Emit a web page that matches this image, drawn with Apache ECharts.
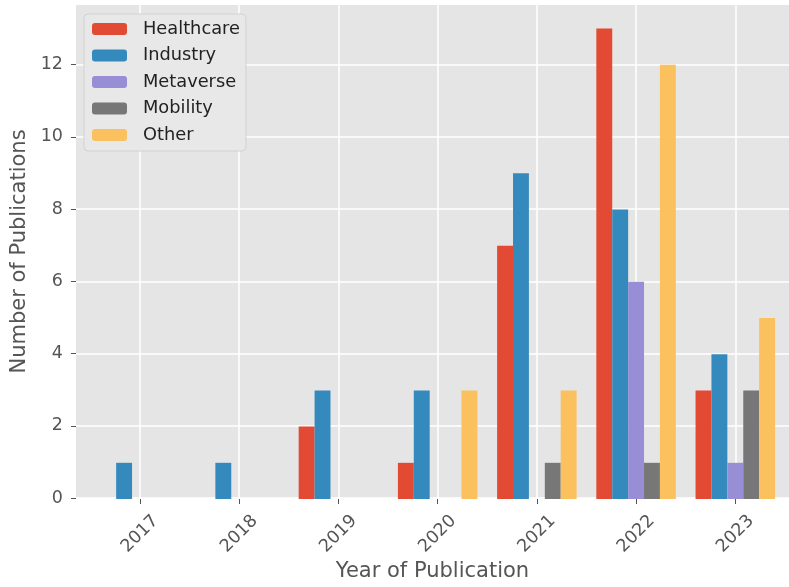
<!DOCTYPE html>
<html>
<head>
<meta charset="utf-8">
<script src="https://cdn.jsdelivr.net/npm/echarts@6/dist/echarts.min.js"></script>
<style>
  html, body { margin: 0; padding: 0; background: #fff; }
  #chart { width: 789px; height: 587px; }
</style>
</head>
<body>
<div id="chart"></div>
<script>
const years = ['2017', '2018', '2019', '2020', '2021', '2022', '2023']
const healthcare = [0, 0, 2, 1, 7, 13, 3]
const industry = [1, 1, 3, 3, 9, 8, 4]
const metaverse = [0, 0, 0, 0, 0, 6, 1]
const mobility = [0, 0, 0, 0, 1, 1, 3]
const other = [0, 0, 0, 3, 3, 12, 5]
const yTicks = [0, 2, 4, 6, 8, 10, 12]

const textColor = '#555555'
const font = 'DejaVu Sans'

const chart = echarts.init(document.getElementById('chart'))

function barSeries(name, color, data) {
  return {
    name: name,
    type: 'bar',
    xAxisIndex: 1,
    yAxisIndex: 1,
    barWidth: 15.9,
    barGap: '0%',
    clip: false,
    itemStyle: { color: color },
    emphasis: { disabled: true },
    data: data
  }
}

chart.setOption({
  animation: false,
  textStyle: { fontFamily: font },
  legend: {
    left: 84,
    top: 14,
    orient: 'vertical',
    itemWidth: 35,
    itemHeight: 12,
    itemGap: 6.5,
    padding: [5, 6, 6, 8],
    backgroundColor: '#e8e8e8',
    borderColor: '#d2d2d2',
    borderWidth: 1,
    borderRadius: 4,
    selectedMode: false,
    textStyle: { fontFamily: font, fontSize: 17.8, color: '#222', lineHeight: 20, padding: [0, 0, 0, 11] },
    data: ['Healthcare', 'Industry', 'Metaverse', 'Mobility', 'Other']
  },
  grid: [
    {
      left: 76, right: -10, top: 5, bottom: 88,
      show: true, backgroundColor: '#e5e5e5', borderWidth: 0
    },
    {
      left: 140, right: 53.7, top: 5, bottom: 88
    }
  ],
  xAxis: [
    {
      gridIndex: 0,
      type: 'value',
      min: 0,
      max: 1,
      name: 'Year of Publication',
      nameLocation: 'middle',
      nameGap: 63,
      nameTextStyle: { fontFamily: font, fontSize: 21, color: textColor },
      axisLine: { show: false },
      axisTick: { show: false },
      axisLabel: { show: false },
      splitLine: { show: false }
    },
    {
      gridIndex: 1,
      type: 'category',
      data: years,
      boundaryGap: false,
      axisLine: { show: false },
      axisTick: { show: true, length: 5, lineStyle: { color: textColor, width: 1 } },
      axisLabel: {
        rotate: 45,
        align: 'center',
        verticalAlign: 'middle',
        margin: 35,
        fontFamily: font,
        fontSize: 17.5,
        color: textColor
      },
      splitLine: { show: true, lineStyle: { color: '#ffffff', width: 1.5 } }
    }
  ],
  yAxis: [
    {
      gridIndex: 0,
      type: 'value',
      min: 0,
      max: 13.65,
      interval: 2,
      name: 'Number of Publications',
      nameLocation: 'middle',
      nameGap: 41,
      nameTextStyle: { fontFamily: font, fontSize: 21, color: textColor },
      axisLine: { show: false },
      axisTick: { show: true, length: 5, customValues: yTicks, lineStyle: { color: textColor, width: 1 } },
      axisLabel: { fontFamily: font, fontSize: 17.5, color: textColor, margin: 13, customValues: yTicks },
      splitLine: { show: true, lineStyle: { color: '#ffffff', width: 1.5 } }
    },
    {
      gridIndex: 1,
      type: 'value',
      min: 0,
      max: 13.65,
      show: false,
      splitLine: { show: false }
    }
  ],
  series: [
    barSeries('Healthcare', '#E24A33', healthcare),
    barSeries('Industry', '#348ABD', industry),
    barSeries('Metaverse', '#988ED5', metaverse),
    barSeries('Mobility', '#777777', mobility),
    barSeries('Other', '#FBC15E', other)
  ]
})
</script>
</body>
</html>
